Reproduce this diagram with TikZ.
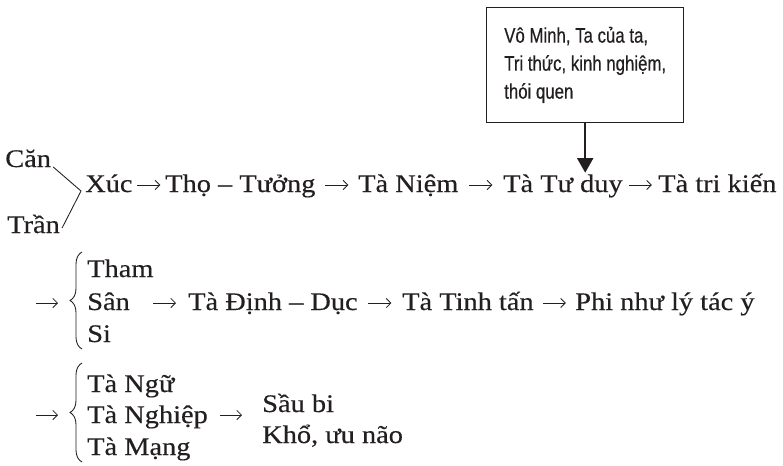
\documentclass[tikz,border=0pt]{standalone}
\usepackage{fontspec}
\setmainfont{Liberation Serif}[FakeStretch=1.12,FakeBold=0.4]
\newfontfamily\boxfont{Liberation Sans}[FakeStretch=0.8,FakeBold=0.5]
\usetikzlibrary{arrows.meta,calc,decorations.pathreplacing}
\definecolor{ink}{RGB}{35,31,32}

\tikzset{
  term/.style={inner sep=0pt,anchor=base west,text=ink,font=\fontsize{19}{22}\selectfont},
  flow/.style={ink,line width=0.65pt,-{Straight Barb[length=3.5pt,width=7pt]}},
  curly/.style={ink,line width=0.65pt,decorate,decoration={brace,amplitude=9pt}},
  notebox/.style={draw=ink,line width=0.8pt,text=ink,align=left,inner sep=0pt,
    minimum width=148pt,minimum height=86pt,font=\boxfont\fontsize{15.75}{21}\selectfont},
  pin/.style={ink,line width=1.5pt,-{Triangle[length=11pt,width=12pt]}},
}
% short arrow set in the middle of the gap between two terms
\newcommand{\gaparrow}[2]{%
	\draw[flow] ($(#1.base east)!0.5!(#2.base west)+(-11.5,-7)$) -- ++(23,0);}

\begin{document}
\begin{tikzpicture}[x=0.75pt,y=-0.75pt]
	\useasboundingbox (0,0) rectangle (783,465);
	
	% box above
	\node[notebox,anchor=north west] (box) at (486,7) {Vô Minh, Ta của ta,\\Tri thức, kinh nghiệm,\\thói quen};
	\coordinate (hit) at ([shift={(0,50)}]box.south);
	\draw[pin] (box.south) -- (hit);
	
	% first line
	\node[term] (can) at (5,167) {Căn};
	\node[term] (tran) at (7,233) {Trần};
	\node[term] (xuc) at (85,192) {Xúc};
	\node[term] (tho) at (165,192) {Thọ – Tưởng};
	\node[term] (niem) at (358,192) {Tà Niệm};
	\node[term] (tuduy) at (503,192) {Tà Tư duy};
	\node[term] (kien) at (658,192) {Tà tri kiến};
	\coordinate (vx) at ([shift={(-4,-1)}]xuc.base west);
	\draw[ink,line width=0.65pt] ([shift={(2,0)}]can.base east) -- (vx) -- ([shift={(2,-5)}]tran.base east);
	\foreach \a/\b in {xuc/tho,tho/niem,niem/tuduy,tuduy/kien}
		{\gaparrow{\a}{\b}}
	
	% second line
	\node[term] (tham) at (87,277) {Tham};
	\node[term] (san) at (87,310) {Sân};
	\node[term] (si) at (87,342) {Si};
	\node[term] (dinh) at (188,310) {Tà Định – Dục};
	\node[term] (tinh) at (402,310) {Tà Tinh tấn};
	\node[term] (phi) at (575,310) {Phi như lý tác ý};
	\draw[curly] ([shift={(-5,7)}]si.base west) -- ([shift={(-5,-25)}]tham.base west);
	\draw[flow] ([shift={(-51,-7)}]san.base west) -- ([shift={(-29,-7)}]san.base west);
	\draw[flow] ([shift={(-35,-7)}]dinh.base west) -- ([shift={(-12,-7)}]dinh.base west);
	\foreach \a/\b in {dinh/tinh,tinh/phi}
		{\gaparrow{\a}{\b}}
	
	% third line
	\node[term] (ngu) at (87,392) {Tà Ngữ};
	\node[term] (nghiep) at (87,423) {Tà Nghiệp};
	\node[term] (mang) at (87,455) {Tà Mạng};
	\node[term] (sau) at (262,412) {Sầu bi};
	\node[term] (kho) at (262,443) {Khổ, ưu não};
	\draw[curly] ([shift={(-5,7)}]mang.base west) -- ([shift={(-5,-29)}]ngu.base west);
	\draw[flow] ([shift={(-51,-8)}]nghiep.base west) -- ([shift={(-29,-8)}]nghiep.base west);
	\draw[flow] ([shift={(-42,3)}]sau.base west) -- ([shift={(-20,3)}]sau.base west);
\end{tikzpicture}
\end{document}
